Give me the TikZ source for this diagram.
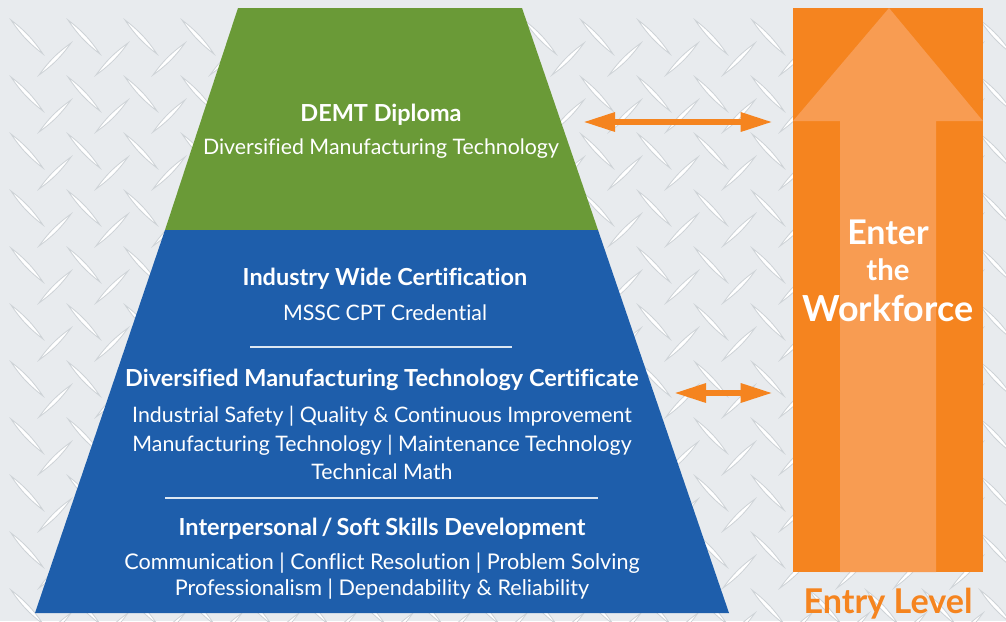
\documentclass[tikz,border=0pt]{standalone}
\usepackage{fontspec}
\setmainfont{Lato}[Ligatures=NoCommon]
\usetikzlibrary{arrows.meta,positioning}

\definecolor{plate}{HTML}{E8EBEE}
\definecolor{plateshade}{HTML}{CDD2D6}
\definecolor{demtgreen}{HTML}{6A9A37}
\definecolor{certblue}{HTML}{1E5EAB}
\definecolor{workorange}{HTML}{F5841F}
\definecolor{lightorange}{HTML}{F89C52}

\tikzstyle{title} = [text=white, font=\fontsize{17.6}{20}\selectfont\bfseries]
\tikzstyle{detail} = [text=white, font=\fontsize{16}{21.4}\selectfont, align=center]
\tikzstyle{divider} = [draw=white!85!certblue, line width=1.2pt]
\tikzstyle{orangebox} = [fill=workorange, inner sep=0pt,
    minimum width=142.5pt, minimum height=423pt]
\tikzstyle{dblarrow} = [draw=workorange, line width=4.5pt, shorten >=15pt,
    {Triangle[length=24pt,width=13.5pt]}-{Triangle[length=24pt,width=13.5pt]}]
\tikzstyle{knurl} = [fill=white, draw=plateshade, line width=0.6pt]

\begin{document}
\begin{tikzpicture}[x=0.75pt, y=-0.75pt]
\useasboundingbox (0,0) rectangle (1006,621);
\fill[plate] (0,0) rectangle (1006,621);
\foreach \i in {0,...,17} \foreach \j in {0,...,10} {
  \begin{scope}[shift={(27+57*\i,37+57*\j)}]
    \path[knurl] (-16,-17) to[bend left=9] (16,17) to[bend left=9] cycle;
    \path[knurl] (12,38) to[bend left=9] (44,6) to[bend left=9] cycle;
  \end{scope}
}

% pyramid
\fill[demtgreen] (238,8) -- (522,8) -- (598,230) -- (165,230) -- cycle;
\fill[certblue] (165,230) -- (598,230) -- (729,613) -- (35,613) -- cycle;

\node[title] (demt) at (381,115) {DEMT Diploma};
\node[detail] (demtsub) at (381,149) {Diversified Manufacturing Technology};

\node[title] (mssc) at (385,279) {Industry Wide Certification};
\node[detail] (msscsub) at (385,313) {MSSC CPT Credential};
\draw[divider] (250,347) -- (512,347);
\node[title] (dmtc) at (382,380) {Diversified Manufacturing Technology Certificate};
\node[detail] (dmtcsub) at (382,443) {Industrial Safety | Quality \& Continuous Improvement\\
    Manufacturing Technology | Maintenance Technology\\ Technical Math};
\draw[divider] (165,498) -- (598,498);
\node[title] (soft) at (382,529) {Interpersonal\,/\,Soft Skills Development};
\node[detail, font=\fontsize{16.2}{19.5}\selectfont] (softsub) at (382,576)
    {Communication | Conflict Resolution | Problem Solving\\
    Professionalism | Dependability \& Reliability};

% workforce arrow
\node[orangebox] (workforce) at (888,290) {};
\fill[lightorange] (889,8) -- (983,121) -- (936,121) -- (936,572)
    -- (840,572) -- (840,121) -- (793,121) -- cycle;
\node[text=white, font=\fontsize{25.5}{28}\selectfont\bfseries] (enter) at (888,232) {Enter};
\node[text=white, font=\fontsize{22}{24}\selectfont\bfseries] (the) at (888,270) {the};
\node[text=white, font=\fontsize{26.9}{30}\selectfont\bfseries] (wf) at (888,308) {Workforce};
\node[text=workorange, font=\fontsize{25.6}{28}\selectfont\bfseries] (entry) at (888,604) {Entry Level};

\coordinate (demtgap) at (583,122);
\coordinate (certgap) at (674,393);
\draw[dblarrow] (demtgap) -- (demtgap -| workforce.west);
\draw[dblarrow] (certgap) -- (certgap -| workforce.west);
\end{tikzpicture}
\end{document}
